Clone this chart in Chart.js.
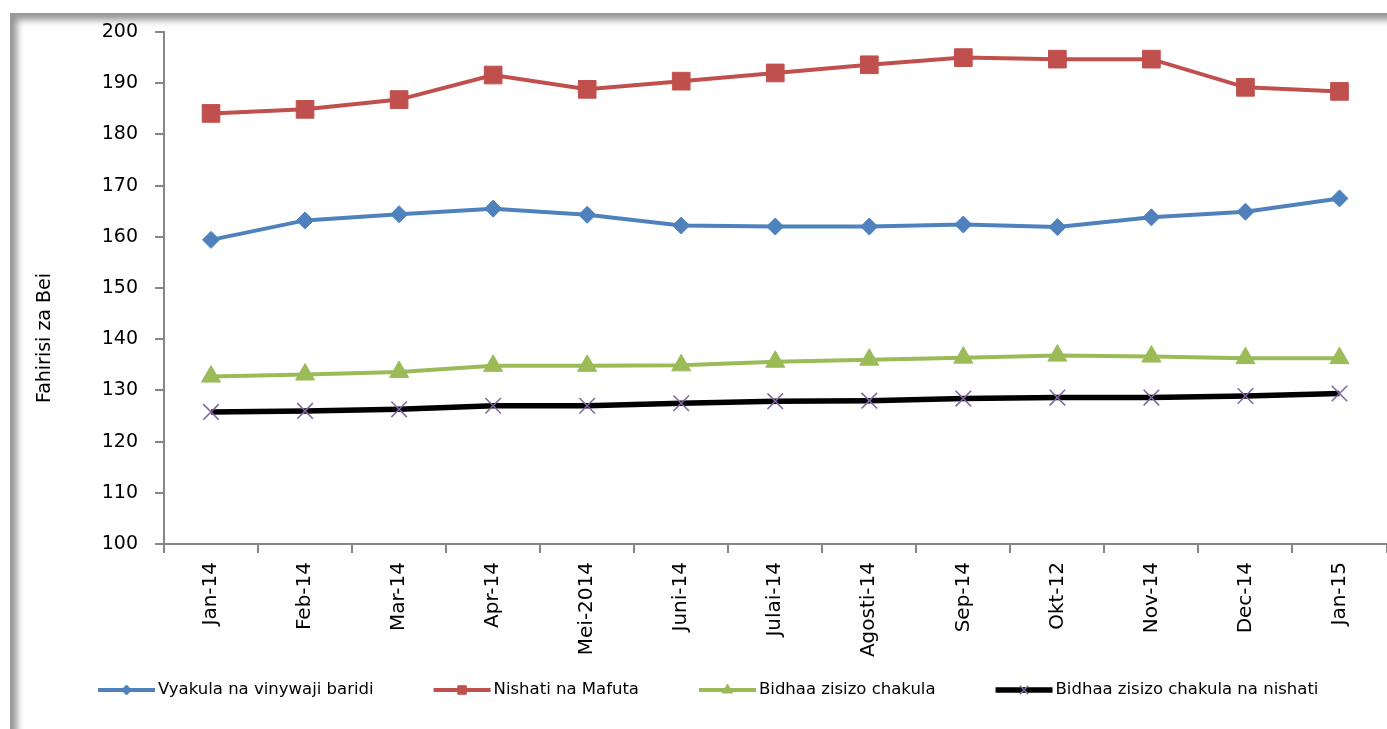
<!DOCTYPE html>
<html>
<head>
<meta charset="utf-8">
<script src="https://cdn.jsdelivr.net/npm/chart.js@4.4.1/dist/chart.umd.min.js"></script>
<style>
  html,body{margin:0;padding:0;background:#fff;overflow:hidden;width:1387px;height:729px;}
  #frame{position:absolute;left:10px;top:13px;width:1420px;height:760px;background:#fff;
    border-top:2px solid #9a9a9a;border-left:2px solid #9a9a9a;
    box-shadow: inset 7px 7px 7px -2px rgba(0,0,0,0.42);}
  #wrap{position:absolute;left:0;top:0;width:1400px;height:729px;}
</style>
</head>
<body>
<div id="frame"></div>
<div id="wrap"><canvas id="c"></canvas></div>
<script>
const categories = ['Jan-14','Feb-14','Mar-14','Apr-14','Mei-2014','Juni-14','Julai-14','Agosti-14','Sep-14','Okt-12','Nov-14','Dec-14','Jan-15'];
const seriesNames = ['Vyakula na vinywaji baridi','Nishati na Mafuta','Bidhaa zisizo chakula','Bidhaa zisizo chakula na nishati'];
const vyakula = [159.4,163.2,164.4,165.5,164.3,162.2,162.0,162.0,162.4,161.9,163.8,164.9,167.5];
const nishati = [184.1,184.9,186.8,191.6,188.8,190.4,192.0,193.6,195.0,194.7,194.7,189.2,188.4];
const bidhaa = [132.7,133.1,133.6,134.8,134.8,134.9,135.6,136.0,136.4,136.8,136.6,136.3,136.3];
const bidhaaNishati = [125.8,126.0,126.3,127.0,127.0,127.5,127.9,128.0,128.4,128.6,128.6,128.9,129.4];
const yTitle = 'Fahirisi za Bei';
const yMin = 100, yMax = 200, yStep = 10;

const FONT = '"DejaVu Sans", Verdana, sans-serif';

const customPlugin = {
  id: 'customDecor',
  afterDraw(chart) {
    const ctx = chart.ctx;
    ctx.save();
    // Y axis title
    ctx.translate(45, 338);
    ctx.rotate(-Math.PI / 2);
    ctx.font = '19px ' + FONT;
    ctx.fillStyle = '#000';
    ctx.textAlign = 'center';
    ctx.textBaseline = 'middle';
    ctx.fillText(yTitle, 0, 0);
    ctx.restore();

    // Legend
    ctx.save();
    ctx.font = '16.5px ' + FONT;
    ctx.textBaseline = 'middle';
    ctx.textAlign = 'left';
    const y = 690;
    let x = 98;
    const sampleW = 57, gapText = 3, gapItem = 60;
    chart.data.datasets.forEach((ds) => {
      ctx.strokeStyle = ds.borderColor;
      ctx.lineWidth = ds.borderWidth;
      ctx.lineCap = 'butt';
      ctx.beginPath();
      ctx.moveTo(x, y);
      ctx.lineTo(x + sampleW, y);
      ctx.stroke();
      ctx.fillStyle = ds.pointBackgroundColor;
      ctx.strokeStyle = ds.pointBorderColor;
      ctx.lineWidth = ds.pointBorderWidth;
      Chart.helpers.drawPoint(ctx, {
        pointStyle: ds.pointStyle,
        radius: ds.legendRadius,
        borderWidth: ds.pointBorderWidth,
        rotation: 0
      }, x + sampleW / 2, y);
      ctx.fillStyle = '#000';
      ctx.fillText(ds.label, x + sampleW + gapText, y);
      x += sampleW + gapText + ctx.measureText(ds.label).width + gapItem;
    });
    ctx.restore();
  }
};

new Chart(document.getElementById('c'), {
  type: 'line',
  data: {
    labels: categories,
    datasets: [
      {
        label: seriesNames[0], data: vyakula,
        borderColor: '#4F81BD', backgroundColor: '#4F81BD',
        borderWidth: 4, pointStyle: 'rectRot', pointRadius: 8.5, legendRadius: 5,
        pointBackgroundColor: '#4F81BD', pointBorderColor: '#4F81BD', pointBorderWidth: 1
      },
      {
        label: seriesNames[1], data: nishati,
        borderColor: '#C0504D', backgroundColor: '#C0504D',
        borderWidth: 4, pointStyle: 'rect', pointRadius: 12.5, legendRadius: 6,
        pointBackgroundColor: '#C0504D', pointBorderColor: '#C0504D', pointBorderWidth: 1
      },
      {
        label: seriesNames[2], data: bidhaa,
        borderColor: '#9BBB59', backgroundColor: '#9BBB59',
        borderWidth: 4, pointStyle: 'triangle', pointRadius: 11, legendRadius: 6,
        pointBackgroundColor: '#9BBB59', pointBorderColor: '#9BBB59', pointBorderWidth: 1
      },
      {
        label: seriesNames[3], data: bidhaaNishati,
        borderColor: '#000000', backgroundColor: '#000000',
        borderWidth: 5.5, pointStyle: 'crossRot', pointRadius: 11, legendRadius: 6,
        pointBackgroundColor: '#8064A2', pointBorderColor: '#8064A2', pointBorderWidth: 1.5
      }
    ]
  },
  options: {
    responsive: true,
    maintainAspectRatio: false,
    animation: false,
    layout: { padding: { top: 32, left: 0, right: 8, bottom: 0 } },
    elements: { line: { tension: 0 } },
    plugins: { legend: { display: false }, tooltip: { enabled: false } },
    scales: {
      x: {
        type: 'category',
        offset: true,
        grid: { display: true, offset: true, drawOnChartArea: false, drawTicks: true, tickLength: 9, color: '#868686', lineWidth: 2 },
        border: { display: true, color: '#868686', width: 2 },
        ticks: { minRotation: 90, maxRotation: 90, autoSkip: false, padding: 9, color: '#000', font: { family: FONT, size: 20 } },
        afterFit(scale) { scale.height = 185; }
      },
      y: {
        min: yMin, max: yMax,
        grid: { drawOnChartArea: false, drawTicks: true, tickLength: 9, color: '#868686', lineWidth: 2 },
        border: { display: true, color: '#868686', width: 2 },
        ticks: { stepSize: yStep, padding: 17, color: '#000', font: { family: FONT, size: 19 } },
        afterFit(scale) { scale.width = 164; }
      }
    }
  },
  plugins: [customPlugin]
});
</script>
</body>
</html>
